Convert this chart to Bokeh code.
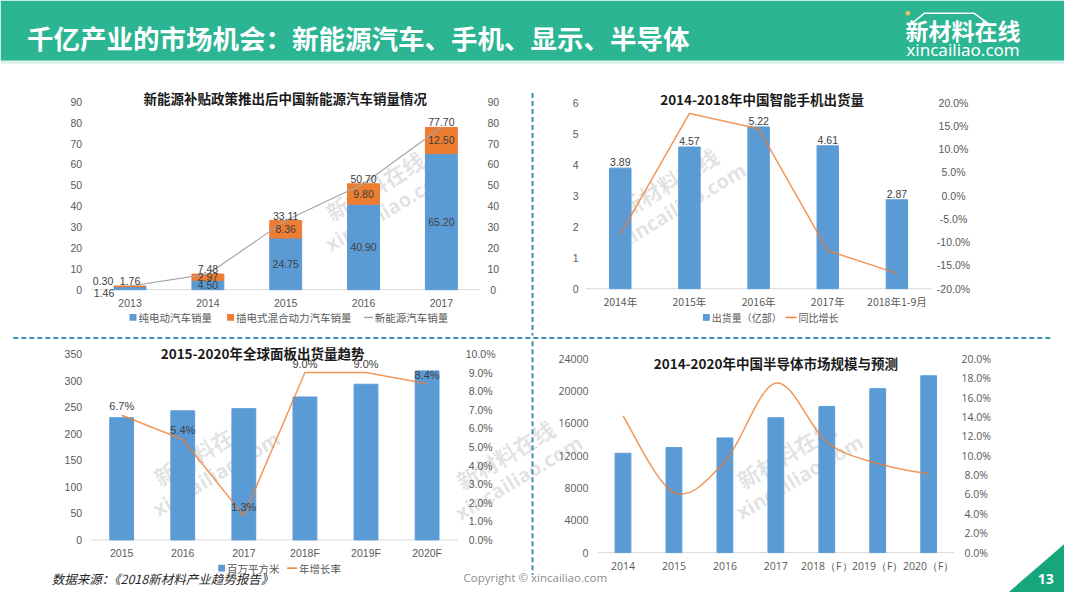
import numpy as np
from bokeh.plotting import figure
from bokeh.models import Range1d
from bokeh.embed import file_html
from bokeh.resources import INLINE
from bokeh.core.properties import value

# ---------------- data ----------------
ev_years = ["2013", "2014", "2015", "2016", "2017"]
ev_bev = [1.46, 4.50, 24.75, 40.90, 65.20]
ev_phev = [0.30, 2.97, 8.36, 9.80, 12.50]
ev_total = [1.76, 7.48, 33.11, 50.70, 77.70]
ev_ticks = [0, 10, 20, 30, 40, 50, 60, 70, 80, 90]

phone_cats = ["2014年", "2015年", "2016年", "2017年", "2018年1-9月"]
phone_ship = [3.89, 4.57, 5.22, 4.61, 2.87]
phone_growth = [-0.083, 0.177, 0.144, -0.118, -0.167]
phone_ticks = [0, 1, 2, 3, 4, 5, 6]
phone_rticks = [-0.20, -0.15, -0.10, -0.05, 0.0, 0.05, 0.10, 0.15, 0.20]

panel_cats = ["2015", "2016", "2017", "2018F", "2019F", "2020F"]
panel_area = [230, 243, 247, 269, 293, 318]
panel_growth = [0.067, 0.054, 0.013, 0.090, 0.090, 0.084]
panel_ticks = [0, 50, 100, 150, 200, 250, 300, 350]
panel_rticks = [0.0, 0.01, 0.02, 0.03, 0.04, 0.05, 0.06, 0.07, 0.08, 0.09, 0.10]

semi_cats = ["2014", "2015", "2016", "2017", "2018（F）", "2019（F）", "2020（F）"]
semi_size = [12300, 13000, 14200, 16700, 18100, 20300, 21900]
semi_growth = [0.141, 0.062, 0.094, 0.175, 0.114, 0.092, 0.081]
semi_ticks = [0, 4000, 8000, 12000, 16000, 20000, 24000]
semi_rticks = [0.0, 0.02, 0.04, 0.06, 0.08, 0.10, 0.12, 0.14, 0.16, 0.18, 0.20]

# ---------------- style ----------------
BLUE = "#5b9bd5"
ORANGE = "#ed7d31"
GRAYLINE = "#a5a5a5"
TICK = "#595959"
LBL = "#404040"
TEAL = "#2bb593"
DIV = "#3f8fb2"
GREEN = "#17a57b"
LATIN = "Liberation Sans"
SANS = "Open Sans"
CJK = "Noto Sans CJK SC"

# slide canvas: page coordinates of the 1080x608 slide, drawn at 1064x592
RW, RH = 1080, 608
p = figure(width=1064, height=592, output_backend="svg", toolbar_location=None,
           x_range=Range1d(0, RW), y_range=Range1d(RH, 0), min_border=0,
           x_axis_location=None, y_axis_location=None)
p.outline_line_color = None
p.grid.visible = False
p.background_fill_color = "white"
p.border_fill_color = "white"

# plot areas of the four charts on the slide (left, right, top, bottom)
AREAS = {"c1": (92, 487, 104, 297), "c2": (594, 945, 105, 296),
         "c3": (92, 464, 363, 554), "c4": (606, 968, 368, 567)}
xr, yr = {}, {}


def scales(key, n, y0, y1, r0=None, r1=None):
    L, R, T, B = AREAS[key]
    kx = n / (R - L)
    xr[key] = Range1d(-0.5 - L * kx, -0.5 + (RW - L) * kx)
    ky = (y1 - y0) / (B - T)
    yr[key] = Range1d(y0 - (RH - B) * ky, y1 + T * ky)
    if r0 is not None:
        kr = (r1 - r0) / (B - T)
        yr[key + "r"] = Range1d(r0 - (RH - B) * kr, r1 + T * kr)


scales("c1", len(ev_years), 0, 90)
scales("c2", len(phone_cats), 0, 6, -0.2, 0.2)
scales("c3", len(panel_cats), 0, 350, 0.0, 0.10)
scales("c4", len(semi_cats), 0, 24000, 0.0, 0.20)
p.extra_x_ranges = xr
p.extra_y_ranges = yr


def txt(x, y, t, xn="default", yn="default", size="10.5px", font=LATIN, color=TICK,
        align="center", baseline="middle", dx=0, dy=0, style="normal", angle=0.0, alpha=1.0):
    p.text(x=list(x), y=list(y), text=list(t), x_range_name=xn, y_range_name=yn,
           text_font=value(font), text_font_size=value(size), text_color=color,
           text_align=align, text_baseline=baseline, x_offset=dx, y_offset=dy,
           text_font_style=style, angle=angle, text_alpha=alpha)


def axes(key, cats, ticks, rticks, xfont, yfont, lft, rgt, xdy, size="10.5px"):
    n = len(cats)
    txt(range(n), [0] * n, cats, key, key, size=size, font=xfont, dy=xdy)
    txt([-0.5] * len(ticks), ticks, [f"{t:g}" for t in ticks], key, key, size=size,
        font=yfont, align="right", dx=-lft)
    rk = key + "r" if key + "r" in yr else key
    rl = [f"{t * 100:.1f}%" for t in rticks] if rk != key else [f"{t:g}" for t in rticks]
    txt([n - 0.5] * len(rticks), rticks, rl, key, rk, size=size, font=yfont,
        align="center", dx=rgt)
    p.segment(x0=[-0.5], y0=[0], x1=[n - 0.5], y1=[0], x_range_name=key, y_range_name=key,
              line_color="#d9d9d9", line_width=1)


def title(x, y, t):
    txt([x], [y], [t], size="13.5px", font=CJK, color="#1a1a1a", style="bold")


def legend_box(x, y, color, label, size="10.5px"):
    p.quad(left=[x], right=[x + 7], top=[y - 3.5], bottom=[y + 3.5], fill_color=color,
           line_color=None)
    txt([x + 9], [y], [label], size=size, font=CJK, align="left")


def legend_line(x, y, color, label, w=11, size="10.5px"):
    p.segment(x0=[x], y0=[y], x1=[x + w], y1=[y], line_color=color, line_width=1.5)
    txt([x + w + 2], [y], [label], size=size, font=CJK, align="left")


def watermark(x, y, a=0.54):
    txt([x], [y], ["新材料在线"], size="22px", font=CJK, color="#9a9a9a", style="bold",
        angle=a, alpha=0.28)
    txt([x + 14], [y + 24], ["xincailiao.com"], size="20px", font=SANS, color="#9a9a9a",
        style="bold", angle=a, alpha=0.28)


# ---------------- header ----------------
p.quad(left=[0], right=[RW], top=[0], bottom=[62], fill_color=TEAL, line_color=None)
p.quad(left=[0], right=[RW], top=[62], bottom=[65], fill_color="#dcf1ea", line_color=None)
txt([27], [38], ["千亿产业的市场机会：新能源汽车、手机、显示、半导体"], size="26.5px", font=CJK,
    color="white", style="bold", align="left")
p.line(x=[922, 938, 988, 1003], y=[26, 13, 13, 24], line_color="white", line_width=1.5)
p.scatter(x=[921], y=[13], size=4, color="#e8c25a")
txt([977], [30], ["新材料在线"], size="23px", font=CJK, color="white", style="bold")
txt([977], [50], ["xincailiao.com"], size="17px", font="Noto Sans", color="white")

# ---------------- watermarks ----------------
for wx, wy in [(380, 190), (678, 186), (205, 462), (512, 466), (797, 465)]:
    watermark(wx, wy)

# ---------------- chart 1 ----------------
n1 = len(ev_years)
x1 = np.arange(n1)
bev = np.array(ev_bev)
phev = np.array(ev_phev)
tot = np.array(ev_total)
axes("c1", ev_years, ev_ticks, ev_ticks, LATIN, LATIN, 9, 13, 13)
p.vbar(x=x1, top=bev, width=0.41, color=BLUE, x_range_name="c1", y_range_name="c1")
p.vbar(x=x1, bottom=bev, top=bev + phev, width=0.41, color=ORANGE,
       x_range_name="c1", y_range_name="c1")
p.line(x=x1, y=tot, color=GRAYLINE, line_width=1.2, x_range_name="c1", y_range_name="c1")
txt(x1[1:], bev[1:] / 2, [f"{v:.2f}" for v in bev[1:]], "c1", "c1", color=LBL)
txt(x1[1:], bev[1:] + phev[1:] / 2, [f"{v:.2f}" for v in phev[1:]], "c1", "c1", color=LBL)
txt(x1, tot, [f"{v:.2f}" for v in tot], "c1", "c1", color=LBL, baseline="bottom", dy=-1)
txt(x1[:1], tot[:1], [f"{phev[0]:.2f}"], "c1", "c1", color=LBL, baseline="bottom", dy=-1, dx=-27)
txt(x1[:1], [0], [f"{bev[0]:.2f}"], "c1", "c1", color=LBL, dy=3, dx=-26)
title(289, 100, "新能源补贴政策推出后中国新能源汽车销量情况")
legend_box(131, 325.5, BLUE, "纯电动汽车销量")
legend_box(230, 325.5, ORANGE, "插电式混合动力汽车销量")
legend_line(369, 325.5, GRAYLINE, "新能源汽车销量", w=9)

# ---------------- chart 2 ----------------
n2 = len(phone_cats)
x2 = np.arange(n2)
axes("c2", phone_cats, phone_ticks, phone_rticks, CJK, LATIN, 7, 22, 13)
p.vbar(x=x2, top=phone_ship, width=0.31, color=BLUE, x_range_name="c2", y_range_name="c2")
p.line(x=x2, y=phone_growth, color=ORANGE, line_width=1.5, line_alpha=0.8,
       x_range_name="c2", y_range_name="c2r")
txt(x2, phone_ship, [f"{v:.2f}" for v in phone_ship], "c2", "c2", color=LBL,
    baseline="bottom", dy=-2)
title(773, 101, "2014-2018年中国智能手机出货量")
legend_box(713, 325.5, BLUE, "出货量（亿部）", size="10px")
legend_line(797, 325.5, ORANGE, "同比增长", size="10px")

# ---------------- chart 3 ----------------
n3 = len(panel_cats)
x3 = np.arange(n3)
axes("c3", panel_cats, panel_ticks, panel_rticks, LATIN, LATIN, 9, 23, 13)
p.vbar(x=x3, top=panel_area, width=0.39, color=BLUE, x_range_name="c3", y_range_name="c3")
p.line(x=x3, y=panel_growth, color=ORANGE, line_width=1.5, line_alpha=0.8,
       x_range_name="c3", y_range_name="c3r")
txt(x3, panel_growth, [f"{v * 100:.1f}%" for v in panel_growth], "c3", "c3r", color=LBL,
    size="11px", baseline="bottom", dy=-3)
title(266, 362, "2015-2020年全球面板出货量趋势")
legend_box(221, 583, BLUE, "百万平方米", size="10.5px")
legend_line(291, 583, ORANGE, "年增长率", w=10)

# ---------------- chart 4 ----------------
n4 = len(semi_cats)
x4 = np.arange(n4, dtype=float)
axes("c4", semi_cats, semi_ticks, semi_rticks, SANS, SANS, 9, 22, 13)
p.vbar(x=x4, top=semi_size, width=0.31, color=BLUE, x_range_name="c4", y_range_name="c4")
g = np.array(semi_growth)
gp = np.concatenate([[g[0]], g])
gn = np.concatenate([g, [g[-1]]])
xp = np.concatenate([[x4[0]], x4])
xn = np.concatenate([x4, [x4[-1]]])
i = np.arange(n4 - 1)
p.bezier(x0=x4[i], y0=g[i], x1=x4[i + 1], y1=g[i + 1],
         cx0=x4[i] + (x4[i + 1] - xp[i]) / 6, cy0=g[i] + (g[i + 1] - gp[i]) / 6,
         cx1=x4[i + 1] - (xn[i + 2] - x4[i]) / 6, cy1=g[i + 1] - (gn[i + 2] - g[i]) / 6,
         x_range_name="c4", y_range_name="c4r", line_color=ORANGE, line_width=1.5,
         line_alpha=0.8)
title(787, 372, "2014-2020年中国半导体市场规模与预测")

# ---------------- dividers ----------------
p.segment(x0=[540, 540], y0=[95, 350], x1=[540, 540], y1=[344, 590], line_color=DIV,
          line_width=2, line_dash="5 3")
p.segment(x0=[13], y0=[346.5], x1=[1066], y1=[346.5], line_color=DIV, line_width=2,
          line_dash="5 3")

# ---------------- footer ----------------
txt([52], [594], ["数据来源：《2018新材料产业趋势报告》"], size="12.5px", font=CJK,
    color="#262626", style="italic", align="left")
txt([470], [593], ["Copyright © xincailiao.com"], size="11.5px", font=SANS,
    color="#8c8c8c", align="left")
p.patch(x=[1023, 1080, 1080], y=[608, 558, 608], fill_color=GREEN, line_color=None)
txt([1061], [594], ["13"], size="14px", font=SANS, color="white", style="bold")

open("out.html", "w").write(file_html(p, INLINE))
